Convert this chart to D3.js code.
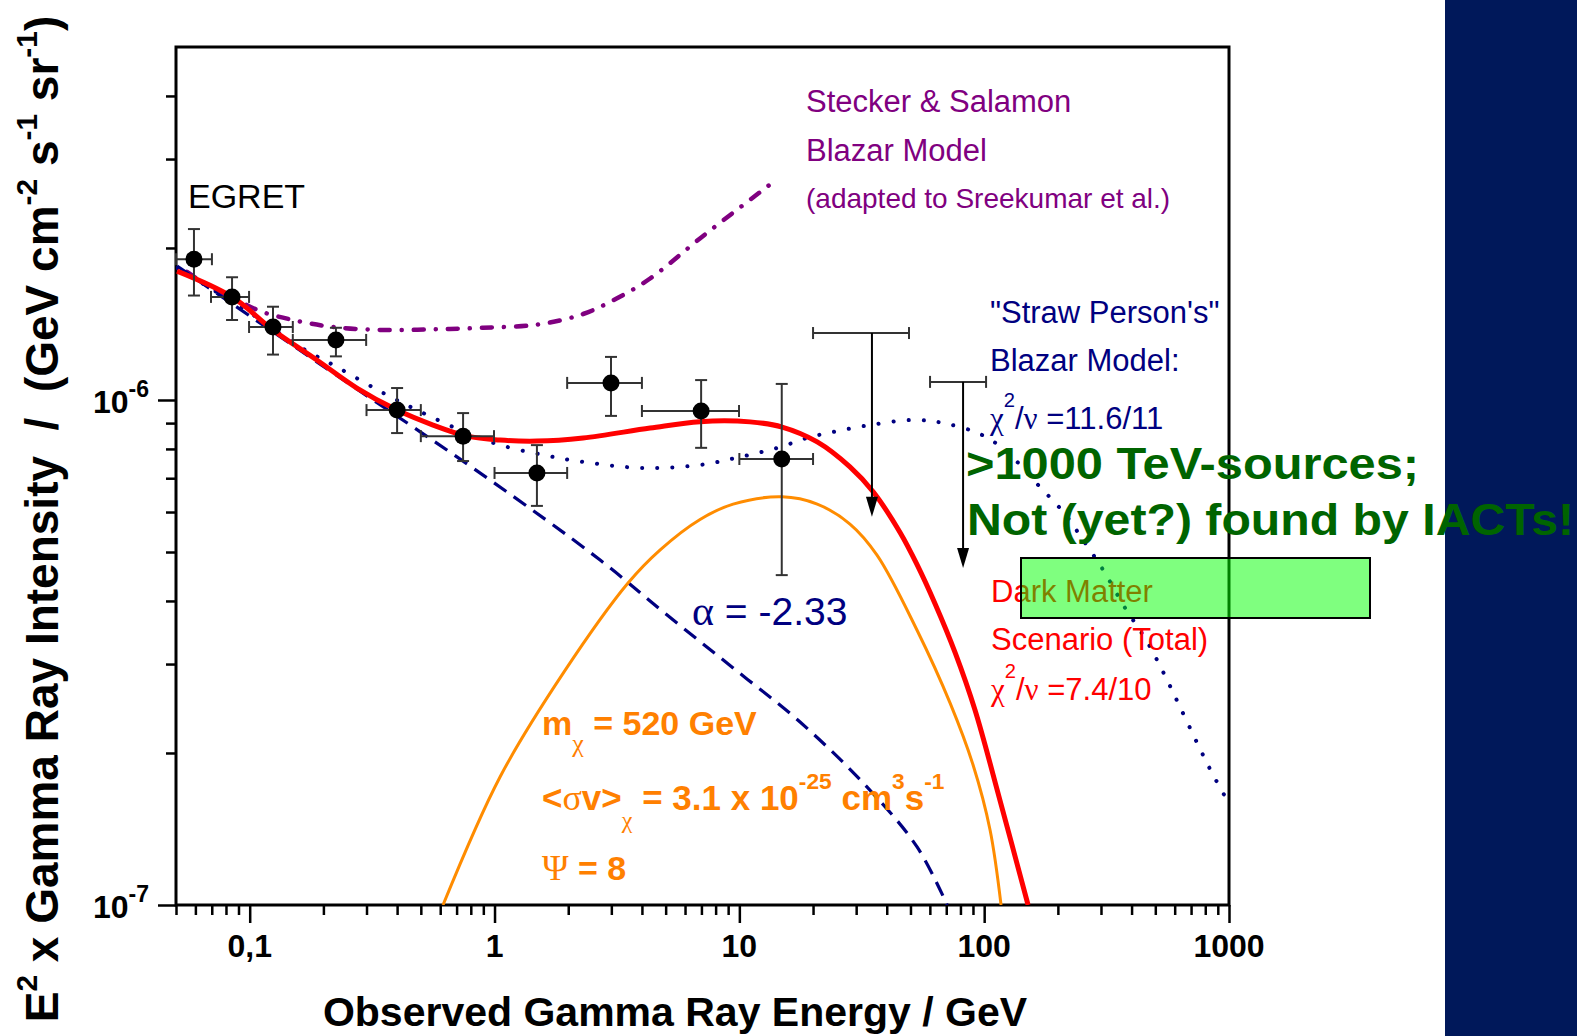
<!DOCTYPE html>
<html>
<head>
<meta charset="utf-8">
<script src="https://cdn.jsdelivr.net/npm/d3@7"></script>
<style>
  body { margin: 0; background: #fff; }
  svg { display: block; font-family: "Liberation Sans", Arial, sans-serif; }
</style>
</head>
<body>
<svg id="chart" width="1577" height="1036"></svg>
<script>
// EGRET points with error bars (E in GeV, E^2 x intensity)
const egretE   = [0.0592, 0.0847, 0.1245, 0.225, 0.40, 0.744, 1.49, 2.99, 6.98, 14.9];
const egretI   = [1.90e-6, 1.60e-6, 1.395e-6, 1.315e-6, 0.955e-6, 0.848e-6, 0.717e-6, 1.081e-6, 0.951e-6, 0.764e-6];
const egretElo = [0.050, 0.0695, 0.0994, 0.150, 0.30, 0.50, 1.0, 1.98, 4.0, 10];
const egretEhi = [0.0701, 0.0994, 0.150, 0.299, 0.50, 0.995, 1.98, 4.0, 9.97, 20];
const egretIlo = [1.61e-6, 1.44e-6, 1.23e-6, 1.22e-6, 0.86e-6, 0.757e-6, 0.617e-6, 0.930e-6, 0.804e-6, 0.450e-6];
const egretIhi = [2.18e-6, 1.75e-6, 1.53e-6, 1.39e-6, 1.056e-6, 0.942e-6, 0.814e-6, 1.217e-6, 1.095e-6, 1.076e-6];

// upper limits
const limitE   = [34.8, 82];
const limitI   = [1.357e-6, 1.086e-6];
const limitElo = [20, 60.1];
const limitEhi = [49.3, 101.8];
const limitTo  = [0.587e-6, 0.465e-6];

// model curves [E, E^2 I]
const dmTotal = [[0.0505,1.80e-6],[0.0847,1.60e-6],[0.1245,1.376e-6],[0.188,1.20e-6],[0.274,1.056e-6],[0.40,0.955e-6],
  [0.561,0.892e-6],[0.772,0.848e-6],[1.053,0.833e-6],[1.49,0.829e-6],[2.30,0.841e-6],[4.32,0.880e-6],[6.91,0.906e-6],
  [11.06,0.905e-6],[14.95,0.884e-6],[20.8,0.826e-6],[28.3,0.737e-6],[35.2,0.658e-6],[45.4,0.546e-6],[53.2,0.472e-6],
  [63.0,0.395e-6],[76.1,0.316e-6],[91.8,0.243e-6],[116.1,0.161e-6],[151.1,1.0e-7]];
const dmSignal = [[0.616,1.0e-7],[1.053,1.793e-7],[1.923,2.894e-7],[3.51,4.34e-7],[4.75,5.05e-7],[6.91,5.80e-7],
  [9.43,6.22e-7],[14.95,6.43e-7],[20.8,6.22e-7],[28.3,5.68e-7],[36.5,4.93e-7],[53.2,3.50e-7],[72.6,2.51e-7],
  [90.1,1.893e-7],[105.7,1.408e-7],[117.2,1.0e-7]];
const powerLaw = [[0.0505,1.842e-6],[0.188,1.190e-6],[0.898,0.710e-6],[2.70,0.482e-6],[5.07,0.375e-6],[9.43,0.2947e-6],
  [17.7,0.2303e-6],[33.2,0.1713e-6],[53.2,0.1303e-6],[70.6,1.0e-7]];
const strawPerson = [[0.0505,1.825e-6],[0.1003,1.487e-6],[0.1605,1.274e-6],[0.2274,1.162e-6],[0.3504,1.033e-6],
  [0.5105,0.9425e-6],[0.772,0.8604e-6],[1.053,0.8145e-6],[1.578,0.7785e-6],[2.299,0.754e-6],[4.045,0.7334e-6],
  [6.91,0.7436e-6],[10.07,0.7714e-6],[14.26,0.8035e-6],[18.91,0.841e-6],[24.14,0.8643e-6],[34.2,0.892e-6],
  [50.8,0.913e-6],[67.9,0.9005e-6],[98.1,0.8524e-6],[125.2,0.785e-6],[166.1,0.6786e-6],[212.1,0.5973e-6],
  [248.8,0.5354e-6],[306.1,0.4607e-6],[376.3,0.3874e-6],[458.6,0.3348e-6],[538.1,0.2894e-6],[619.6,0.2512e-6],
  [741,0.2094e-6],[853.1,0.1825e-6],[991.8,0.16e-6]];
const steckerSalamon = [[0.05545,1.793e-6],[0.0688,1.674e-6],[0.0887,1.578e-6],[0.1102,1.500e-6],[0.1503,1.440e-6],
  [0.2189,1.395e-6],[0.3504,1.376e-6],[0.561,1.380e-6],[0.898,1.390e-6],[1.49,1.410e-6],[2.30,1.480e-6],
  [3.166,1.590e-6],[4.32,1.740e-6],[7.177,2.120e-6],[13.6,2.690e-6]];

// axis ticks
const xMajor = [0.1, 1, 10, 100, 1000];
const xMajorLabels = ["0,1", "1", "10", "100", "1000"];
const xMinor = [0.05,0.06,0.07,0.08,0.09, 0.2,0.3,0.4,0.5,0.6,0.7,0.8,0.9, 2,3,4,5,6,7,8,9, 20,30,40,50,60,70,80,90, 200,300,400,500,600,700,800,900];
const yMajor = [1e-7, 1e-6];
const yMajorExp = ["-7", "-6"];
const yMinor = [2e-7,3e-7,4e-7,5e-7,6e-7,7e-7,8e-7,9e-7, 2e-6,3e-6,4e-6];

const L = 176, R = 1229, T = 47, B = 905;
const x = d3.scaleLog().domain([0.05, 1000]).range([L, R]);
const y = d3.scaleLog().domain([1e-7, 5e-6]).range([B, T]);

const svg = d3.select("#chart");
const serif = "'Liberation Serif','DejaVu Serif',serif";

// rich text with sub/superscripts
function rich(g, px, py, parts, size, fill, weight) {
  const t = g.append("text").attr("x", px).attr("y", py).attr("font-size", size)
    .attr("fill", fill).attr("font-weight", weight || "normal").style("white-space", "pre");
  let shift = 0;
  parts.forEach(p => {
    const o = typeof p === "string" ? {t: p} : p;
    const target = o.sup ? -size * (o.up || 0.42) : o.sub ? size * (o.down || 0.4) : 0;
    const ts = t.append("tspan").attr("dy", target - shift).text(o.t);
    shift = target;
    if (o.sup || o.sub) ts.attr("font-size", size * (o.scale || 0.65));
    if (o.g) ts.attr("font-family", serif).attr("font-weight", "normal");
    if (o.fs) ts.attr("font-size", o.fs);
  });
  return t;
}

svg.append("rect").attr("x", 1445).attr("y", 0).attr("width", 132).attr("height", 1036).attr("fill", "#00185a");

svg.append("defs").append("clipPath").attr("id", "plotclip")
  .append("rect").attr("x", L).attr("y", T).attr("width", R - L).attr("height", B - T);

// ticks
function ticks(axis, vals, size, tr) {
  const g = svg.append("g").attr("transform", tr)
    .call(axis.tickValues(vals).tickSize(size).tickFormat(""));
  g.select(".domain").remove();
  g.selectAll(".tick line").attr("stroke", "#000").attr("stroke-width", 2.5);
  return g;
}
ticks(d3.axisBottom(x), xMinor, 10, `translate(0,${B})`);
ticks(d3.axisBottom(x), xMajor, 18, `translate(0,${B})`);
ticks(d3.axisLeft(y), yMinor, 10, `translate(${L},0)`);
ticks(d3.axisLeft(y), yMajor, 18, `translate(${L},0)`);

svg.append("g").selectAll("text").data(xMajor).join("text")
  .attr("x", d => x(d)).attr("y", B + 52).attr("text-anchor", "middle")
  .attr("font-size", 32).attr("font-weight", "bold").text((d, i) => xMajorLabels[i]);

yMajor.forEach((d, i) => {
  rich(svg, 149, y(d) + 13, ["10", {t: yMajorExp[i], sup: true, up: 0.5, scale: 0.72}], 32, "#000", "bold")
    .attr("text-anchor", "end");
});

// frame
svg.append("rect").attr("x", L).attr("y", T).attr("width", R - L).attr("height", B - T)
  .attr("fill", "none").attr("stroke", "#000").attr("stroke-width", 3);

// curves
const line = d3.line().x(d => x(d[0])).y(d => y(d[1])).curve(d3.curveCatmullRom.alpha(0.5));
const curves = svg.append("g").attr("clip-path", "url(#plotclip)").attr("fill", "none");
curves.append("path").datum(steckerSalamon).attr("d", line)
  .attr("stroke", "#800080").attr("stroke-width", 4.5).attr("stroke-linecap", "round").attr("stroke-dasharray", "10 12 0.1 12");
curves.append("path").datum(powerLaw).attr("d", line)
  .attr("stroke", "#000080").attr("stroke-width", 3.2).attr("stroke-dasharray", "15 9");
curves.append("path").datum(strawPerson).attr("d", line)
  .attr("stroke", "#000080").attr("stroke-width", 4).attr("stroke-linecap", "round").attr("stroke-dasharray", "0.1 15");
curves.append("path").datum(dmSignal).attr("d", line)
  .attr("stroke", "#ff8c00").attr("stroke-width", 3);
curves.append("path").datum(dmTotal).attr("d", line)
  .attr("stroke", "#ff0000").attr("stroke-width", 5);

// EGRET error bars and points
const eg = svg.append("g").attr("stroke", "#333").attr("stroke-width", 2);
egretE.forEach((e, i) => {
  const cx = x(e), cy = y(egretI[i]);
  const x0 = x(egretElo[i]), x1 = x(egretEhi[i]), y0 = y(egretIlo[i]), y1 = y(egretIhi[i]);
  eg.append("line").attr("x1", x0).attr("x2", x1).attr("y1", cy).attr("y2", cy);
  eg.append("line").attr("x1", cx).attr("x2", cx).attr("y1", y0).attr("y2", y1);
  [x0, x1].forEach(v => eg.append("line").attr("x1", v).attr("x2", v).attr("y1", cy - 6).attr("y2", cy + 6));
  [y0, y1].forEach(v => eg.append("line").attr("x1", cx - 6).attr("x2", cx + 6).attr("y1", v).attr("y2", v));
});
svg.append("g").selectAll("circle").data(egretE).join("circle")
  .attr("cx", d => x(d)).attr("cy", (d, i) => y(egretI[i])).attr("r", 8.5).attr("fill", "#000");

// upper limits
limitE.forEach((e, i) => {
  const cx = x(e), cy = y(limitI[i]), tip = y(limitTo[i]);
  const x0 = x(limitElo[i]), x1 = x(limitEhi[i]);
  eg.append("line").attr("x1", x0).attr("x2", x1).attr("y1", cy).attr("y2", cy);
  [x0, x1].forEach(v => eg.append("line").attr("x1", v).attr("x2", v).attr("y1", cy - 6).attr("y2", cy + 6));
  svg.append("line").attr("x1", cx).attr("x2", cx).attr("y1", cy).attr("y2", tip - 10)
    .attr("stroke", "#000").attr("stroke-width", 2);
  svg.append("path").attr("d", `M${cx - 6},${tip - 20}L${cx + 6},${tip - 20}L${cx},${tip}Z`).attr("fill", "#000");
});

// annotations
svg.append("text").attr("x", 188).attr("y", 208).attr("font-size", 34).attr("fill", "#000").text("EGRET");

const purple = "#800080";
svg.append("text").attr("x", 806).attr("y", 112).attr("font-size", 31).attr("fill", purple).text("Stecker & Salamon");
svg.append("text").attr("x", 806).attr("y", 161).attr("font-size", 31).attr("fill", purple).text("Blazar Model");
svg.append("text").attr("x", 806).attr("y", 208).attr("font-size", 28).attr("fill", purple).text("(adapted to Sreekumar et al.)");

const navy = "#000080";
svg.append("text").attr("x", 990).attr("y", 323).attr("font-size", 31).attr("fill", navy).text("\"Straw Person's\"");
svg.append("text").attr("x", 990).attr("y", 371).attr("font-size", 31).attr("fill", navy).text("Blazar Model:");
rich(svg, 990, 429, [{t: "\u03c7", g: true}, {t: "2", sup: true, up: 0.7}, "/", {t: "\u03bd", g: true}, " =11.6/11"], 31, navy);

rich(svg, 692, 625, [{t: "\u03b1", g: true, fs: 42}, " = -2.33"], 39, navy);

const red = "#ff0000";
svg.append("text").attr("x", 991).attr("y", 602).attr("font-size", 31).attr("fill", red).text("Dark Matter");
svg.append("text").attr("x", 991).attr("y", 650).attr("font-size", 31).attr("fill", red).text("Scenario (Total)");
rich(svg, 991, 700, [{t: "\u03c7", g: true}, {t: "2", sup: true, up: 0.7}, "/", {t: "\u03bd", g: true}, " =7.4/10"], 31, red);

const orange = "#ff8000";
rich(svg, 542, 735, ["m", {t: "\u03c7", sub: true, g: true, down: 0.5, fs: 26}, " = 520 GeV"], 34, orange, "bold");
rich(svg, 542, 810, ["<", {t: "\u03c3", g: true, fs: 36}, "v>", {t: "\u03c7", sub: true, g: true, down: 0.5, fs: 24},
  " = 3.1 x 10", {t: "-25", sup: true, up: 0.6}, " cm", {t: "3", sup: true, up: 0.6}, "s", {t: "-1", sup: true, up: 0.6}], 35, orange, "bold");
rich(svg, 542, 880, [{t: "\u03a8", g: true, fs: 36}, " = 8"], 34, orange, "bold");

// axis titles
svg.append("text").attr("x", 675).attr("y", 1026).attr("text-anchor", "middle")
  .attr("font-size", 41).attr("font-weight", "bold").text("Observed Gamma Ray Energy / GeV");
const yl = svg.append("g").attr("transform", "translate(58,519) rotate(-90)");
rich(yl, 0, 0, ["E", {t: "2", sup: true, up: 0.45}, " x Gamma Ray Intensity  /  (GeV cm", {t: "-2", sup: true, up: 0.45},
  " s", {t: "-1", sup: true, up: 0.45}, " sr", {t: "-1", sup: true, up: 0.45}, ")"], 46, "#000", "bold")
  .attr("text-anchor", "middle");

// overlay box and remark
svg.append("rect").attr("x", 1021).attr("y", 558).attr("width", 349).attr("height", 60)
  .attr("fill", "rgb(0,255,0)").attr("fill-opacity", 0.5).attr("stroke", "#000").attr("stroke-width", 2);
const green = "#006400";
svg.append("text").attr("x", 966).attr("y", 479).attr("font-size", 44).attr("font-weight", "bold").attr("fill", green)
  .attr("textLength", 453).attr("lengthAdjust", "spacingAndGlyphs").text(">1000 TeV-sources;");
svg.append("text").attr("x", 967).attr("y", 535).attr("font-size", 44).attr("font-weight", "bold").attr("fill", green)
  .attr("textLength", 607).attr("lengthAdjust", "spacingAndGlyphs").text("Not (yet?) found by IACTs!");
</script>
</body>
</html>
